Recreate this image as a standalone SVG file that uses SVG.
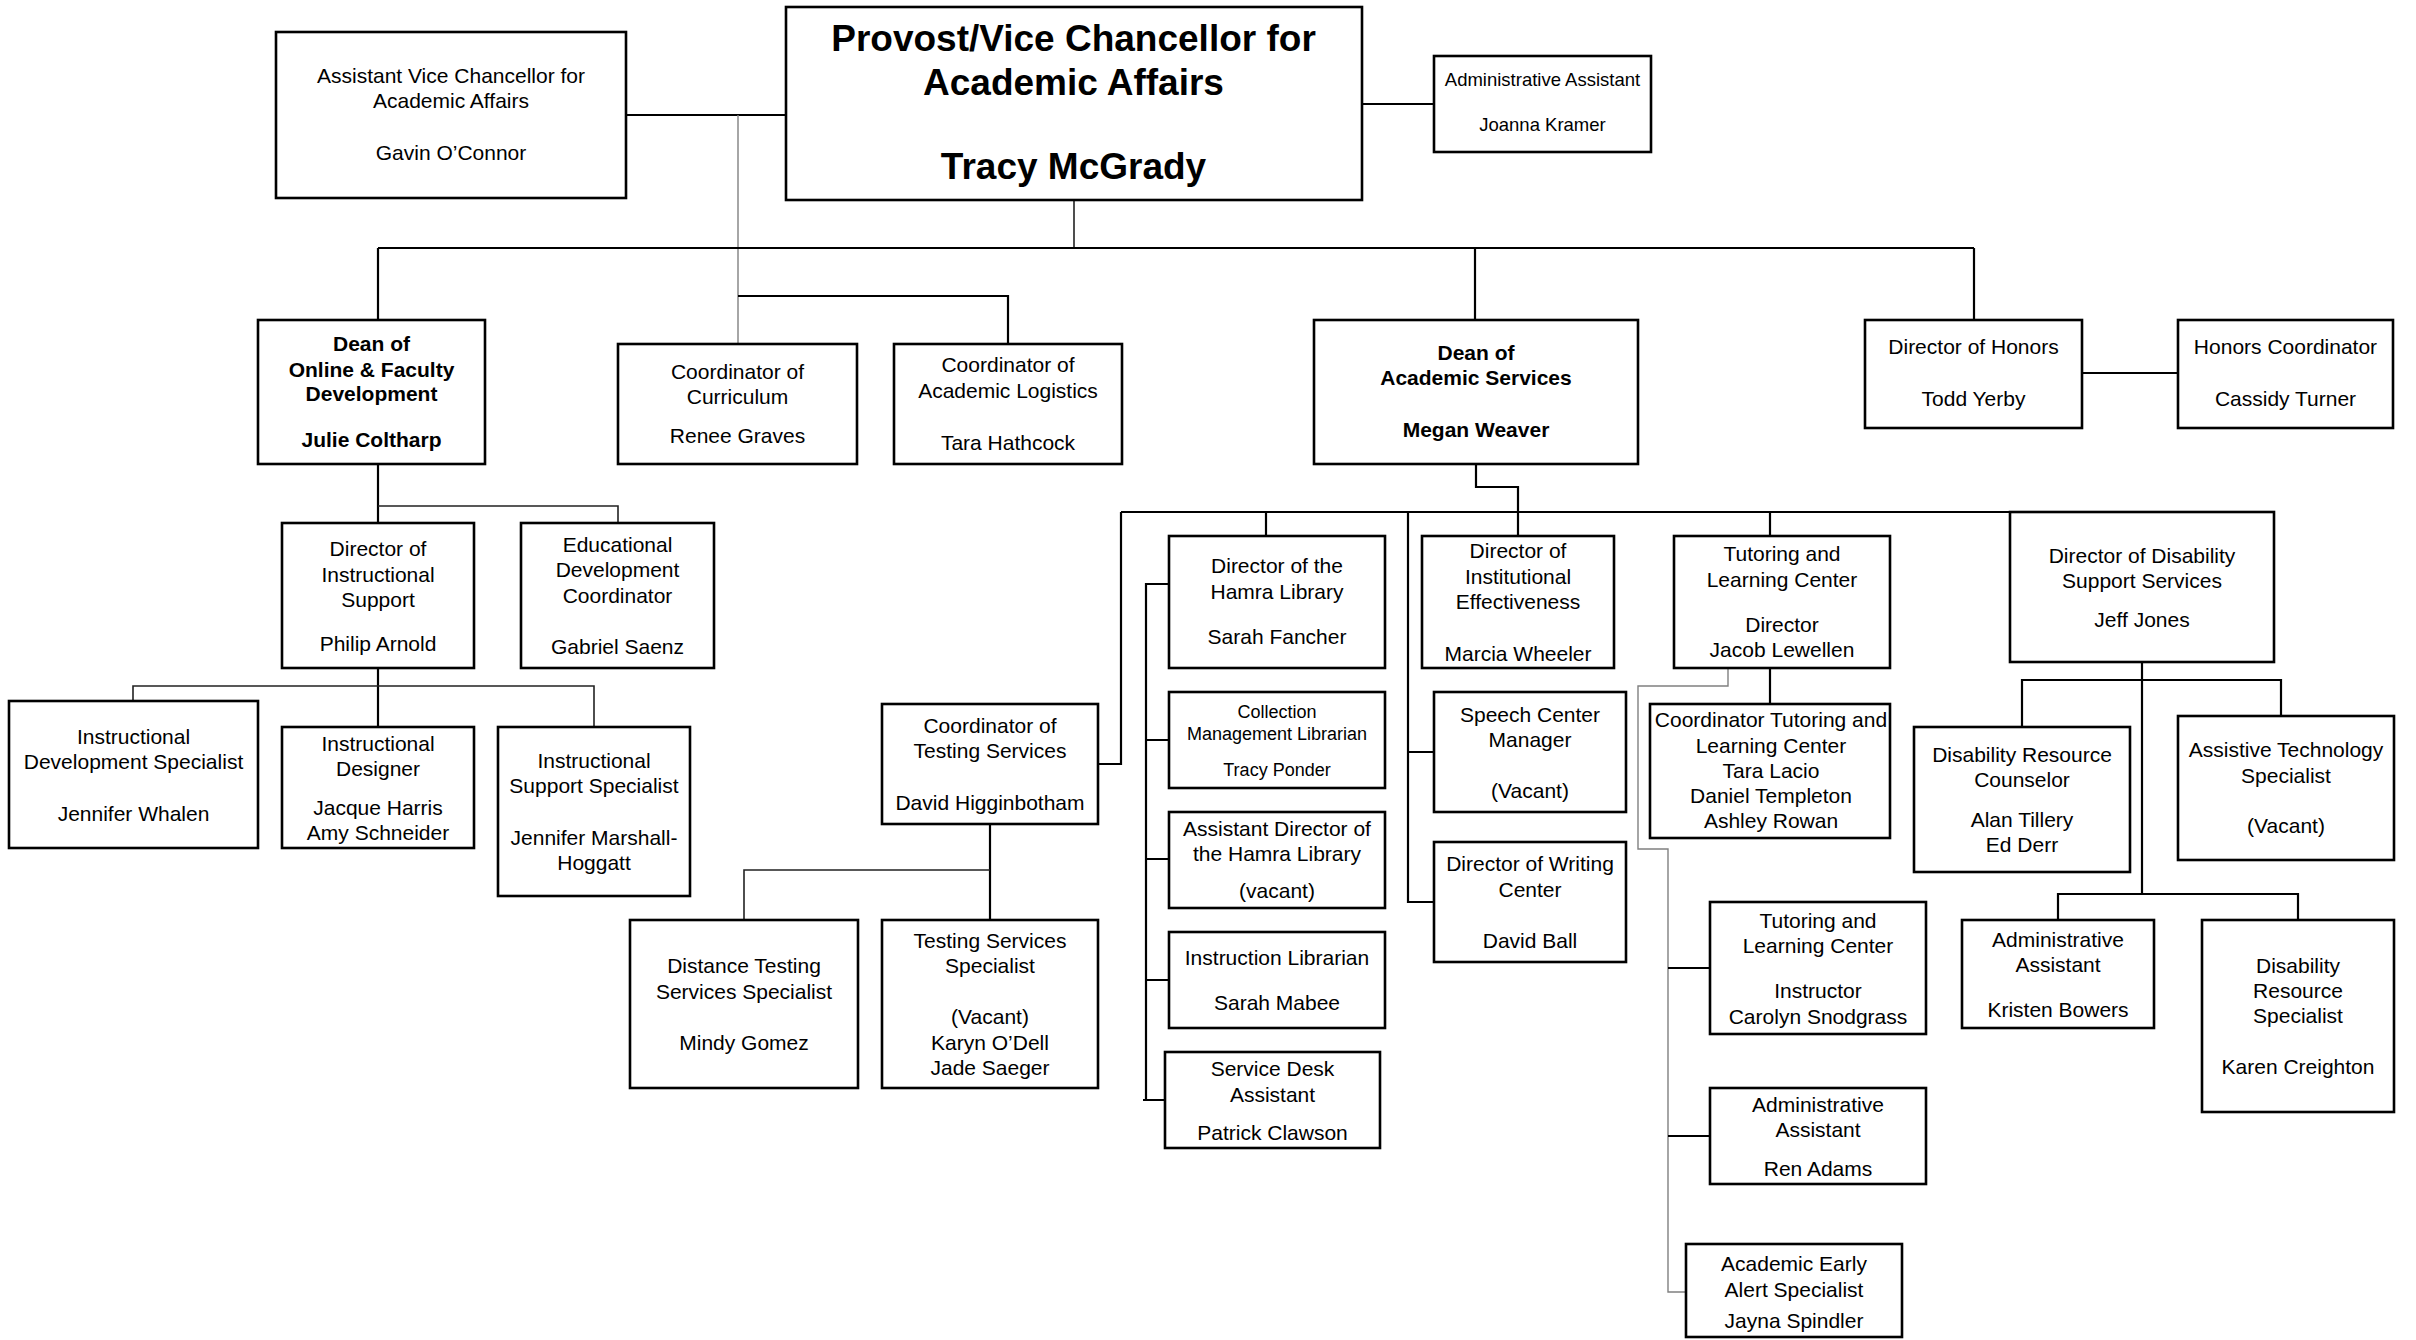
<svg xmlns="http://www.w3.org/2000/svg" width="2416" height="1340" viewBox="0 0 2416 1340">
<style>
.box{fill:#fff;stroke:#000;stroke-width:2.6}
.t{font-family:"Liberation Sans",Arial,Helvetica,sans-serif;font-size:21px;text-anchor:middle;fill:#000}
.b{font-weight:bold}
.s{font-size:18.5px}
.c{fill:none;stroke:#000;stroke-width:2.2}
.cn{fill:none;stroke:#222;stroke-width:1.6}
.g{fill:none;stroke:#808080;stroke-width:1.4}
</style>
<rect width="2416" height="1340" fill="#fff"/>
<g id="connectors">
<path class="c" d="M626 115H786"/>
<path class="g" d="M738 115V344"/>
<path class="cn" d="M1074 200V248"/>
<path class="c" d="M378 248H1974"/>
<path class="c" d="M378 248V320M1475 248V320M1974 248V320"/>
<path class="c" d="M738 296H1008V344"/>
<path class="c" d="M2082 373H2178"/>
<path class="c" d="M1362 104H1434"/>
<path class="c" d="M378 464V523"/>
<path class="cn" d="M378 506H618V523"/>
<path class="c" d="M378 668V727"/>
<path class="cn" d="M133 701V686H594V727"/>
<path class="c" d="M1476 464V487H1518V536"/>
<path class="c" d="M1121 512H2010"/>
<path class="c" d="M1121 512V764H1098"/>
<path class="c" d="M1266 512V536"/>
<path class="c" d="M1408 512V902H1434M1408 752H1434"/>
<path class="c" d="M1770 512V536M1770 668V704"/>
<path class="c" d="M1169 584H1146V1100H1165M1146 740H1169M1146 859H1169M1146 980H1169M1143 1100H1146"/>
<path class="c" d="M990 824V920"/>
<path class="cn" d="M744 920V870H990"/>
<path class="g" d="M1728 668V686H1638V849H1668V1292H1686"/>
<path class="c" d="M1668 968H1710M1668 1136H1710"/>
<path class="c" d="M2142 662V895"/>
<path class="c" d="M2022 727V680H2281V716"/>
<path class="c" d="M2058 920V894H2298V920"/>
</g>
<g id="provost"><rect class="box" x="786" y="7" width="576" height="193"/>
<text class="t b" style="font-size:37px"><tspan x="1073.5" y="50.7">Provost/Vice Chancellor for</tspan><tspan x="1073.5" y="95">Academic Affairs</tspan><tspan x="1073.5" y="178.5">Tracy McGrady</tspan></text></g>
<g id="avc"><rect class="box" x="276" y="32" width="350" height="166"/>
<text class="t"><tspan x="451" y="83.3">Assistant Vice Chancellor for</tspan><tspan x="451" y="108.3">Academic Affairs</tspan><tspan x="451" y="160">Gavin O’Connor</tspan></text></g>
<g id="admin-top"><rect class="box" x="1434" y="56" width="217" height="96"/>
<text class="t s"><tspan x="1542.5" y="86">Administrative Assistant</tspan><tspan x="1542.5" y="130.7">Joanna Kramer</tspan></text></g>
<g id="dean-online"><rect class="box" x="258" y="320" width="227" height="144"/>
<text class="t b"><tspan x="371.5" y="350.7">Dean of</tspan><tspan x="371.5" y="376.7">Online &amp; Faculty</tspan><tspan x="371.5" y="401">Development</tspan><tspan x="371.5" y="446.7">Julie Coltharp</tspan></text></g>
<g id="coord-curriculum"><rect class="box" x="618" y="344" width="239" height="120"/>
<text class="t"><tspan x="737.5" y="379">Coordinator of</tspan><tspan x="737.5" y="404.3">Curriculum</tspan><tspan x="737.5" y="442.7">Renee Graves</tspan></text></g>
<g id="coord-logistics"><rect class="box" x="894" y="344" width="228" height="120"/>
<text class="t"><tspan x="1008" y="372.3">Coordinator of</tspan><tspan x="1008" y="397.7">Academic Logistics</tspan><tspan x="1008" y="450">Tara Hathcock</tspan></text></g>
<g id="dean-as"><rect class="box" x="1314" y="320" width="324" height="144"/>
<text class="t b"><tspan x="1476" y="360">Dean of</tspan><tspan x="1476" y="385">Academic Services</tspan><tspan x="1476" y="436.7">Megan Weaver</tspan></text></g>
<g id="dir-honors"><rect class="box" x="1865" y="320" width="217" height="108"/>
<text class="t"><tspan x="1973.5" y="354.3">Director of Honors</tspan><tspan x="1973.5" y="406">Todd Yerby</tspan></text></g>
<g id="honors-coord"><rect class="box" x="2178" y="320" width="215" height="108"/>
<text class="t"><tspan x="2285.5" y="354.3">Honors Coordinator</tspan><tspan x="2285.5" y="406">Cassidy Turner</tspan></text></g>
<g id="dir-is"><rect class="box" x="282" y="523" width="192" height="145"/>
<text class="t"><tspan x="378" y="555.7">Director of</tspan><tspan x="378" y="581.7">Instructional</tspan><tspan x="378" y="606.7">Support</tspan><tspan x="378" y="650.7">Philip Arnold</tspan></text></g>
<g id="edc"><rect class="box" x="521" y="523" width="193" height="145"/>
<text class="t"><tspan x="617.5" y="551.7">Educational</tspan><tspan x="617.5" y="577.3">Development</tspan><tspan x="617.5" y="602.7">Coordinator</tspan><tspan x="617.5" y="654.3">Gabriel Saenz</tspan></text></g>
<g id="ids"><rect class="box" x="9" y="701" width="249" height="147"/>
<text class="t"><tspan x="133.5" y="744">Instructional</tspan><tspan x="133.5" y="769">Development Specialist</tspan><tspan x="133.5" y="821">Jennifer Whalen</tspan></text></g>
<g id="designer"><rect class="box" x="282" y="727" width="192" height="121"/>
<text class="t"><tspan x="378" y="751">Instructional</tspan><tspan x="378" y="775.5">Designer</tspan><tspan x="378" y="815">Jacque Harris</tspan><tspan x="378" y="840">Amy Schneider</tspan></text></g>
<g id="iss"><rect class="box" x="498" y="727" width="192" height="169"/>
<text class="t"><tspan x="594" y="768.3">Instructional</tspan><tspan x="594" y="793.3">Support Specialist</tspan><tspan x="594" y="845">Jennifer Marshall-</tspan><tspan x="594" y="869.5">Hoggatt</tspan></text></g>
<g id="coord-testing"><rect class="box" x="882" y="704" width="216" height="120"/>
<text class="t"><tspan x="990" y="733.3">Coordinator of</tspan><tspan x="990" y="758.3">Testing Services</tspan><tspan x="990" y="810">David Higginbotham</tspan></text></g>
<g id="distance"><rect class="box" x="630" y="920" width="228" height="168"/>
<text class="t"><tspan x="744" y="973.3">Distance Testing</tspan><tspan x="744" y="999">Services Specialist</tspan><tspan x="744" y="1050">Mindy Gomez</tspan></text></g>
<g id="tss"><rect class="box" x="882" y="920" width="216" height="168"/>
<text class="t"><tspan x="990" y="948.3">Testing Services</tspan><tspan x="990" y="973.3">Specialist</tspan><tspan x="990" y="1024">(Vacant)</tspan><tspan x="990" y="1050">Karyn O’Dell</tspan><tspan x="990" y="1075">Jade Saeger</tspan></text></g>
<g id="hamra-dir"><rect class="box" x="1169" y="536" width="216" height="132"/>
<text class="t"><tspan x="1277" y="573.3">Director of the</tspan><tspan x="1277" y="599.3">Hamra Library</tspan><tspan x="1277" y="644.3">Sarah Fancher</tspan></text></g>
<g id="collection"><rect class="box" x="1169" y="692" width="216" height="96"/>
<text class="t" style="font-size:18px"><tspan x="1277" y="718.3">Collection</tspan><tspan x="1277" y="740">Management Librarian</tspan><tspan x="1277" y="775.7">Tracy Ponder</tspan></text></g>
<g id="asst-dir"><rect class="box" x="1169" y="812" width="216" height="96"/>
<text class="t"><tspan x="1277" y="836">Assistant Director of</tspan><tspan x="1277" y="860.7">the Hamra Library</tspan><tspan x="1277" y="897.7">(vacant)</tspan></text></g>
<g id="instr-lib"><rect class="box" x="1169" y="932" width="216" height="96"/>
<text class="t"><tspan x="1277" y="965">Instruction Librarian</tspan><tspan x="1277" y="1010">Sarah Mabee</tspan></text></g>
<g id="service-desk"><rect class="box" x="1165" y="1052" width="215" height="96"/>
<text class="t"><tspan x="1272.5" y="1075.7">Service Desk</tspan><tspan x="1272.5" y="1101.7">Assistant</tspan><tspan x="1272.5" y="1140">Patrick Clawson</tspan></text></g>
<g id="dir-ie"><rect class="box" x="1422" y="536" width="192" height="132"/>
<text class="t"><tspan x="1518" y="558.3">Director of</tspan><tspan x="1518" y="584">Institutional</tspan><tspan x="1518" y="609">Effectiveness</tspan><tspan x="1518" y="660.7">Marcia Wheeler</tspan></text></g>
<g id="speech"><rect class="box" x="1434" y="692" width="192" height="120"/>
<text class="t"><tspan x="1530" y="721.7">Speech Center</tspan><tspan x="1530" y="747.3">Manager</tspan><tspan x="1530" y="797.5">(Vacant)</tspan></text></g>
<g id="writing"><rect class="box" x="1434" y="842" width="192" height="120"/>
<text class="t"><tspan x="1530" y="871">Director of Writing</tspan><tspan x="1530" y="896.7">Center</tspan><tspan x="1530" y="948.3">David Ball</tspan></text></g>
<g id="tlc-dir"><rect class="box" x="1674" y="536" width="216" height="132"/>
<text class="t"><tspan x="1782" y="560.7">Tutoring and</tspan><tspan x="1782" y="587.3">Learning Center</tspan><tspan x="1782" y="631.7">Director</tspan><tspan x="1782" y="656.7">Jacob Lewellen</tspan></text></g>
<g id="tlc-coord"><rect class="box" x="1650" y="704" width="240" height="134"/>
<text class="t"><tspan x="1771" y="727.3">Coordinator Tutoring and</tspan><tspan x="1771" y="753.3">Learning Center</tspan><tspan x="1771" y="778.3">Tara Lacio</tspan><tspan x="1771" y="803.3">Daniel Templeton</tspan><tspan x="1771" y="827.7">Ashley Rowan</tspan></text></g>
<g id="tlc-instructor"><rect class="box" x="1710" y="902" width="216" height="132"/>
<text class="t"><tspan x="1818" y="927.7">Tutoring and</tspan><tspan x="1818" y="953.3">Learning Center</tspan><tspan x="1818" y="998.3">Instructor</tspan><tspan x="1818" y="1024">Carolyn Snodgrass</tspan></text></g>
<g id="admin-tlc"><rect class="box" x="1710" y="1088" width="216" height="96"/>
<text class="t"><tspan x="1818" y="1111.7">Administrative</tspan><tspan x="1818" y="1137.3">Assistant</tspan><tspan x="1818" y="1175.7">Ren Adams</tspan></text></g>
<g id="early-alert"><rect class="box" x="1686" y="1244" width="216" height="93"/>
<text class="t"><tspan x="1794" y="1270.7">Academic Early</tspan><tspan x="1794" y="1296.7">Alert Specialist</tspan><tspan x="1794" y="1328.3">Jayna Spindler</tspan></text></g>
<g id="dir-disability"><rect class="box" x="2010" y="512" width="264" height="150"/>
<text class="t"><tspan x="2142" y="563.3">Director of Disability</tspan><tspan x="2142" y="588.3">Support Services</tspan><tspan x="2142" y="626.7">Jeff Jones</tspan></text></g>
<g id="drc"><rect class="box" x="1914" y="727" width="216" height="145"/>
<text class="t"><tspan x="2022" y="761.7">Disability Resource</tspan><tspan x="2022" y="787.3">Counselor</tspan><tspan x="2022" y="826.7">Alan Tillery</tspan><tspan x="2022" y="851.7">Ed Derr</tspan></text></g>
<g id="ats"><rect class="box" x="2178" y="716" width="216" height="144"/>
<text class="t"><tspan x="2286" y="756.7">Assistive Technology</tspan><tspan x="2286" y="782.7">Specialist</tspan><tspan x="2286" y="833">(Vacant)</tspan></text></g>
<g id="admin-dis"><rect class="box" x="1962" y="920" width="192" height="108"/>
<text class="t"><tspan x="2058" y="946.7">Administrative</tspan><tspan x="2058" y="971.7">Assistant</tspan><tspan x="2058" y="1016.7">Kristen Bowers</tspan></text></g>
<g id="drs"><rect class="box" x="2202" y="920" width="192" height="192"/>
<text class="t"><tspan x="2298" y="973.3">Disability</tspan><tspan x="2298" y="998.3">Resource</tspan><tspan x="2298" y="1023.3">Specialist</tspan><tspan x="2298" y="1074.3">Karen Creighton</tspan></text></g>
</svg>
